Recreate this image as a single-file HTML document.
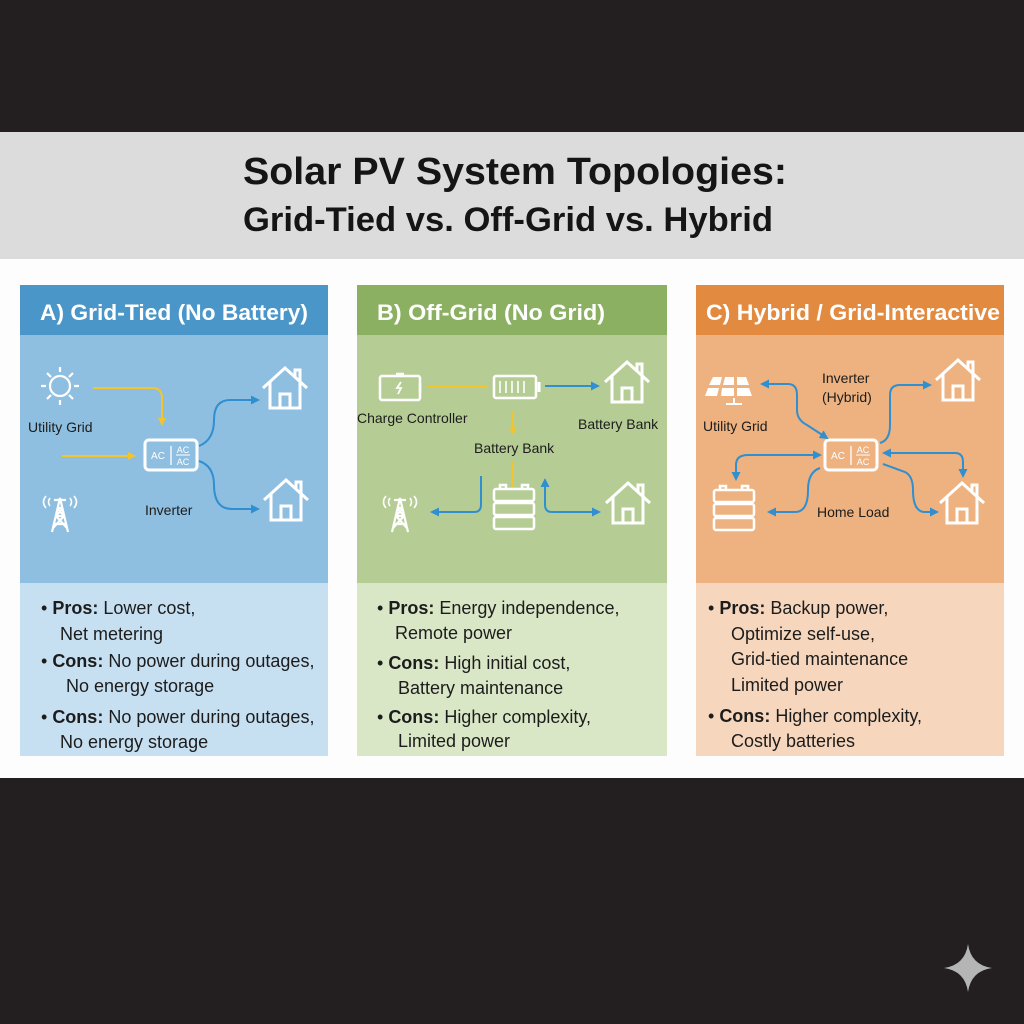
<!DOCTYPE html>
<html><head><meta charset="utf-8"><style>
html,body{margin:0;padding:0;background:#231f20;}
svg{display:block;}
text{font-family:"Liberation Sans",sans-serif;}
</style></head><body>
<svg width="1024" height="1024" viewBox="0 0 1024 1024" xmlns="http://www.w3.org/2000/svg">
<defs>
<marker id="ay" markerWidth="8" markerHeight="8" refX="6" refY="4" orient="auto" markerUnits="userSpaceOnUse"><path d="M0,0 L8,4 L0,8 z" fill="#f2c52e"/></marker>
<marker id="ab" markerWidth="9" markerHeight="9" refX="7" refY="4.5" orient="auto-start-reverse" markerUnits="userSpaceOnUse"><path d="M0,0 L9,4.5 L0,9 z" fill="#2f8fd0"/></marker>
<g id="house" fill="none" stroke="#fff" stroke-width="3" stroke-linejoin="miter">
<path d="M-22,0 L0,-20 L22,0"/><path d="M10,-11 L10,-18 L15,-18 L15,-6"/>
<path d="M-15,-6 L-15,20 L15,20 L15,-6"/><path d="M-5,20 L-5,6 L5,6 L5,20"/>
</g>
<g id="tower" fill="none" stroke="#fff" stroke-width="2.2">
<path d="M-8,22 L0,-12 L8,22 M-6,14 L6,14 M-4,6 L4,6 M-7,18 L4,6 M7,18 L-4,6 M-3,-2 L3,-2 M-3,-2 L4,6 M3,-2 L-4,6"/>
<path d="M-10,-12 q-3,4 0,8 M10,-12 q3,4 0,8 M-14,-14 q-5,6 0,12 M14,-14 q5,6 0,12" stroke-width="1.6"/>
<path d="M-6,-10 L6,-10"/>
</g>
<g id="batstack" fill="none" stroke="#fff" stroke-width="2.5">
<rect x="-20" y="-14" width="40" height="12" rx="2"/><rect x="-20" y="0" width="40" height="12" rx="2"/><rect x="-20" y="14" width="40" height="12" rx="2"/>
<path d="M-14,-14 v-4 h6 v4 M8,-14 v-4 h6 v4"/>
</g>
<g id="inv">
<rect x="-26" y="-15" width="52" height="30" rx="4" fill="none" stroke="#fff" stroke-width="3"/>
<text x="-13" y="4" font-size="10" fill="#fff" text-anchor="middle">AC</text>
<line x1="0" y1="-9" x2="0" y2="10" stroke="#fff" stroke-width="1.3"/>
<text x="12" y="-2" font-size="9" fill="#fff" text-anchor="middle">AC</text>
<line x1="5" y1="0" x2="19" y2="0" stroke="#fff" stroke-width="1"/>
<text x="12" y="10" font-size="9" fill="#fff" text-anchor="middle">AC</text>
</g>
</defs>
<rect x="0" y="0" width="1024" height="1024" fill="#231f20"/>
<rect x="0" y="132" width="1024" height="127" fill="#dcdcdc"/>
<rect x="0" y="259" width="1024" height="519" fill="#fdfdfd"/>
<text x="243" y="184" font-size="38" font-weight="bold" fill="#151515" textLength="544" lengthAdjust="spacingAndGlyphs">Solar PV System Topologies:</text>
<text x="243" y="231" font-size="34" font-weight="bold" fill="#151515" textLength="530" lengthAdjust="spacingAndGlyphs">Grid-Tied vs. Off-Grid vs. Hybrid</text>

<rect x="20" y="285" width="308" height="50" fill="#4b96c8"/>
<rect x="20" y="335" width="308" height="248" fill="#8fbfe0"/>
<rect x="20" y="583" width="308" height="173" fill="#c6dff1"/>
<text x="40" y="320" font-size="22" font-weight="bold" fill="#fff" textLength="268" lengthAdjust="spacingAndGlyphs">A) Grid-Tied (No Battery)</text>
<rect x="357" y="285" width="310" height="50" fill="#8bb062"/>
<rect x="357" y="335" width="310" height="248" fill="#b5cd95"/>
<rect x="357" y="583" width="310" height="173" fill="#d9e7c7"/>
<text x="377" y="320" font-size="22" font-weight="bold" fill="#fff" textLength="228" lengthAdjust="spacingAndGlyphs">B) Off-Grid (No Grid)</text>
<rect x="696" y="285" width="308" height="50" fill="#e28b40"/>
<rect x="696" y="335" width="308" height="248" fill="#edb27f"/>
<rect x="696" y="583" width="308" height="173" fill="#f6d7bd"/>
<text x="706" y="320" font-size="22" font-weight="bold" fill="#fff" textLength="294" lengthAdjust="spacingAndGlyphs">C) Hybrid / Grid-Interactive</text>

<g stroke="#fff" stroke-width="2.2" fill="none">
<circle cx="60" cy="386" r="10"/>
<path d="M60,367 v5 M60,400 v5 M41,386 h5 M74,386 h5 M47,373 l4,4 M69,395 l4,4 M73,373 l-4,4 M51,395 l-4,4"/>
</g>
<path d="M93,388 H152 Q162,388 162,398 V424" stroke="#f2c52e" stroke-width="2" fill="none" marker-end="url(#ay)"/>
<path d="M62,456 H134" stroke="#f2c52e" stroke-width="2" fill="none" marker-end="url(#ay)"/>
<use href="#tower" x="60" y="510"/>
<use href="#inv" x="171" y="455"/>
<path d="M199,446 Q214,440 214,420 Q214,400 230,400 H258" stroke="#2f8fd0" stroke-width="2" fill="none" marker-end="url(#ab)"/>
<path d="M199,461 Q214,466 214,485 Q214,509 232,509 H258" stroke="#2f8fd0" stroke-width="2" fill="none" marker-end="url(#ab)"/>
<use href="#house" x="285" y="388"/>
<use href="#house" x="286" y="500"/>
<text x="28" y="432" font-size="14" fill="#1c1c1c">Utility Grid</text>
<text x="145" y="515" font-size="14" fill="#1c1c1c">Inverter</text>

<g stroke="#fff" stroke-width="2.5" fill="none">
<rect x="380" y="376" width="40" height="24" rx="2"/><path d="M420,383 v10"/><path d="M396,374 h8"/>
<rect x="494" y="376" width="42" height="22" rx="2"/><path d="M539,382 v10" stroke-width="3"/>
<path d="M500,381 v12 M506,381 v12 M512,381 v12 M518,381 v12 M524,381 v12" stroke-width="1.6"/>
</g>
<path d="M401,382 l-4,6 h4 l-3,6" stroke="#fff" stroke-width="1.8" fill="none"/>
<path d="M427,387 H487" stroke="#f2c52e" stroke-width="2"/>
<path d="M545,386 H598" stroke="#2f8fd0" stroke-width="2" fill="none" marker-end="url(#ab)"/>
<path d="M513,411 V433" stroke="#f2c52e" stroke-width="2" fill="none" marker-end="url(#ay)"/>
<path d="M513,462 V488" stroke="#f2c52e" stroke-width="2"/>
<use href="#batstack" x="514" y="503"/>
<path d="M481,476 V505 Q481,512 474,512 H432" stroke="#2f8fd0" stroke-width="2" fill="none" marker-end="url(#ab)"/>
<path d="M545,480 V505 Q545,512 552,512 H599" stroke="#2f8fd0" stroke-width="2" fill="none" marker-start="url(#ab)" marker-end="url(#ab)"/>
<use href="#tower" x="400" y="510"/>
<use href="#house" x="627" y="382"/>
<use href="#house" x="628" y="503"/>
<text x="357" y="423" font-size="14" fill="#1c1c1c">Charge Controller</text>
<text x="578" y="429" font-size="14" fill="#1c1c1c">Battery Bank</text>
<text x="474" y="453" font-size="14" fill="#1c1c1c">Battery Bank</text>

<g fill="#fff">
<path d="M713,377 L722,377 L720,385 L709,385 z M725,377 L734,377 L734,385 L723,385 z M737,377 L746,377 L749,385 L737,385 z"/>
<path d="M708,388 L719,388 L717,396 L705,396 z M722,388 L734,388 L734,396 L721,396 z M737,388 L749,388 L752,396 L737,396 z"/>
<rect x="733" y="398" width="2" height="6"/><rect x="726" y="403" width="16" height="2"/>
</g>
<use href="#inv" x="851" y="455"/>
<path d="M762,384 H788 Q797,384 797,395 V410 Q797,420 807,425 L827,438" stroke="#2f8fd0" stroke-width="2" fill="none" marker-start="url(#ab)" marker-end="url(#ab)"/>
<path d="M880,443 Q890,440 890,425 V395 Q890,385 900,385 H930" stroke="#2f8fd0" stroke-width="2" fill="none" marker-end="url(#ab)"/>
<path d="M820,455 H748 Q736,455 736,465 V479" stroke="#2f8fd0" stroke-width="2" fill="none" marker-start="url(#ab)" marker-end="url(#ab)"/>
<path d="M820,468 Q808,472 808,490 Q808,512 795,512 H769" stroke="#2f8fd0" stroke-width="2" fill="none" marker-end="url(#ab)"/>
<path d="M884,453 H955 Q963,453 963,462 V476" stroke="#2f8fd0" stroke-width="2" fill="none" marker-start="url(#ab)" marker-end="url(#ab)"/>
<path d="M883,464 L905,472 Q913,476 913,490 Q913,512 925,512 H937" stroke="#2f8fd0" stroke-width="2" fill="none" marker-end="url(#ab)"/>
<use href="#batstack" x="734" y="504"/>
<use href="#house" x="958" y="380"/>
<use href="#house" x="962" y="503"/>
<text x="703" y="431" font-size="14" fill="#1c1c1c">Utility Grid</text>
<text x="822" y="383" font-size="14" fill="#1c1c1c">Inverter</text>
<text x="822" y="402" font-size="14" fill="#1c1c1c">(Hybrid)</text>
<text x="817" y="517" font-size="14" fill="#1c1c1c">Home Load</text>

<g font-size="18" fill="#1c1c1c">
<text x="41" y="614">• <tspan font-weight="bold">Pros:</tspan> Lower cost,</text>
<text x="60" y="640">Net metering</text>
<text x="41" y="667">• <tspan font-weight="bold">Cons:</tspan> No power during outages,</text>
<text x="66" y="692">No energy storage</text>
<text x="41" y="723">• <tspan font-weight="bold">Cons:</tspan> No power during outages,</text>
<text x="60" y="748">No energy storage</text>

<text x="377" y="614">• <tspan font-weight="bold">Pros:</tspan> Energy independence,</text>
<text x="395" y="639">Remote power</text>
<text x="377" y="669">• <tspan font-weight="bold">Cons:</tspan> High initial cost,</text>
<text x="398" y="694">Battery maintenance</text>
<text x="377" y="723">• <tspan font-weight="bold">Cons:</tspan> Higher complexity,</text>
<text x="398" y="747">Limited power</text>

<text x="708" y="614">• <tspan font-weight="bold">Pros:</tspan> Backup power,</text>
<text x="731" y="640">Optimize self-use,</text>
<text x="731" y="665">Grid-tied maintenance</text>
<text x="731" y="691">Limited power</text>
<text x="708" y="722">• <tspan font-weight="bold">Cons:</tspan> Higher complexity,</text>
<text x="731" y="747">Costly batteries</text>
</g>

<path d="M968,944 Q971,965 992,968 Q971,971 968,992 Q965,971 944,968 Q965,965 968,944 z" fill="#b5b5b5"/>
</svg>
</body></html>
